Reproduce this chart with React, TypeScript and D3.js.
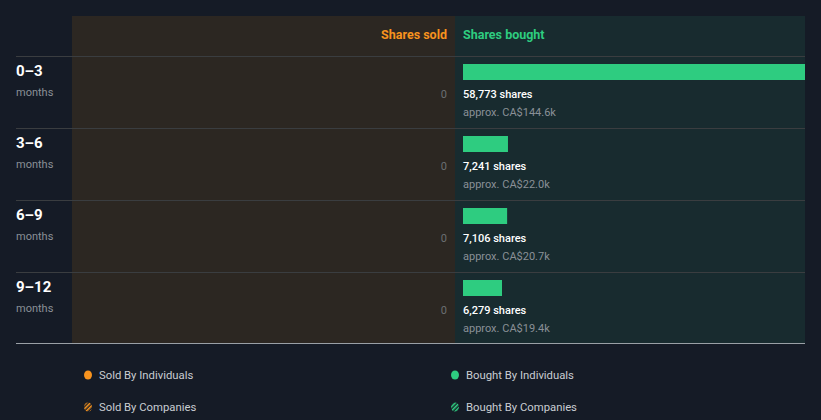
import React from "react";
import * as d3 from "d3";

const periods = ["0–3", "3–6", "6–9", "9–12"];
const sharesSold = [0, 0, 0, 0];
const sharesBought = [58773, 7241, 7106, 6279];
const boughtValue = ["CA$144.6k", "CA$22.0k", "CA$20.7k", "CA$19.4k"];
const legendItems = [
  { label: "Sold By Individuals", color: "#f7931e", striped: false },
  { label: "Bought By Individuals", color: "#2ecc80", striped: false },
  { label: "Sold By Companies", color: "#f7931e", striped: true },
  { label: "Bought By Companies", color: "#2ecc80", striped: true },
];

const W = 821;
const H = 420;
const BG = "#151b26";
const SOLD_BG = "#2c2722";
const BOUGHT_BG = "#182b2f";
const GREEN = "#2ecc80";
const ORANGE = "#f7931e";
const FONT = "Roboto, 'Noto Sans', sans-serif";

export default function App() {
  const left = 72;
  const mid = 455;
  const right = 805;
  const top = 16;
  const headerBottom = 56;
  const rowH = 72;
  const bottom = headerBottom + rowH * periods.length - 1;

  const y = d3
    .scaleBand<number>()
    .domain(d3.range(periods.length))
    .range([headerBottom, headerBottom + rowH * periods.length]);

  // scale overflows the panel; bars are clipped at its right edge
  const x = d3
    .scaleLinear()
    .domain([0, d3.max(sharesBought) as number])
    .range([mid + 8, 828]);

  const fmt = d3.format(",");

  return (
    <div style={{ position: "fixed", left: 0, top: 0, width: W, height: H, background: BG }}>
      <svg width={W} height={H} style={{ display: "block", fontFamily: FONT }}>
        <defs>
          <clipPath id="boughtClip">
            <rect x={mid} y={top} width={right - mid} height={bottom - top} />
          </clipPath>
          <pattern id="stripeO" width="3" height="3" patternUnits="userSpaceOnUse" patternTransform="rotate(45)">
            <rect width="3" height="3" fill={BG} />
            <rect width="1.6" height="3" fill={ORANGE} />
          </pattern>
          <pattern id="stripeG" width="3" height="3" patternUnits="userSpaceOnUse" patternTransform="rotate(45)">
            <rect width="3" height="3" fill={BG} />
            <rect width="1.6" height="3" fill={GREEN} />
          </pattern>
        </defs>
        <rect x={0} y={0} width={W} height={H} fill={BG} />
        <rect x={left} y={top} width={mid - left} height={bottom - top} fill={SOLD_BG} />
        <rect x={mid} y={top} width={right - mid} height={bottom - top} fill={BOUGHT_BG} />

        <text x={mid - 8} y={39} textAnchor="end" fill={ORANGE} fontSize={12.5} fontWeight={700}>
          Shares sold
        </text>
        <text x={mid + 8} y={39} fill={GREEN} fontSize={12.5} fontWeight={700}>
          Shares bought
        </text>

        {periods.map((p, i) => {
          const y0 = y(i) as number;
          return (
            <g key={p}>
              <line x1={16} x2={right} y1={y0 + 0.5} y2={y0 + 0.5} stroke="#3a3d40" strokeWidth={1} />
              <text x={16} y={y0 + 20} fill="#ffffff" fontSize={15} fontWeight={700}>
                {p}
              </text>
              <text x={16} y={y0 + 40} fill="#8a9097" fontSize={11}>
                months
              </text>
              <text x={mid - 8} y={y0 + 42} textAnchor="end" fill="#6b6f73" fontSize={11}>
                {sharesSold[i]}
              </text>
              <rect
                clipPath="url(#boughtClip)"
                x={x(0)}
                y={y0 + 8}
                width={Math.max(0, x(sharesBought[i]) - x(0))}
                height={16}
                fill={GREEN}
              />
              <text x={mid + 8} y={y0 + 42} fill="#ffffff" fontSize={11} fontWeight={500}>
                {fmt(sharesBought[i])} shares
              </text>
              <text x={mid + 8} y={y0 + 60} fill="#8a9097" fontSize={11}>
                approx. {boughtValue[i]}
              </text>
            </g>
          );
        })}
        <line x1={16} x2={right} y1={bottom + 0.5} y2={bottom + 0.5} stroke="#9aa0a6" strokeWidth={1} />

        {legendItems.map((it, i) => {
          const col = i % 2;
          const row = Math.floor(i / 2);
          const lx = col === 0 ? 88 : 455;
          const ly = 375 + row * 32;
          return (
            <g key={it.label}>
              <ellipse
                cx={lx}
                cy={ly}
                rx={4}
                ry={4.5}
                fill={it.striped ? (it.color === GREEN ? "url(#stripeG)" : "url(#stripeO)") : it.color}
              />
              <text x={lx + 11} y={ly + 4} fill="#c9cdd2" fontSize={11.3}>
                {it.label}
              </text>
            </g>
          );
        })}
      </svg>
    </div>
  );
}
